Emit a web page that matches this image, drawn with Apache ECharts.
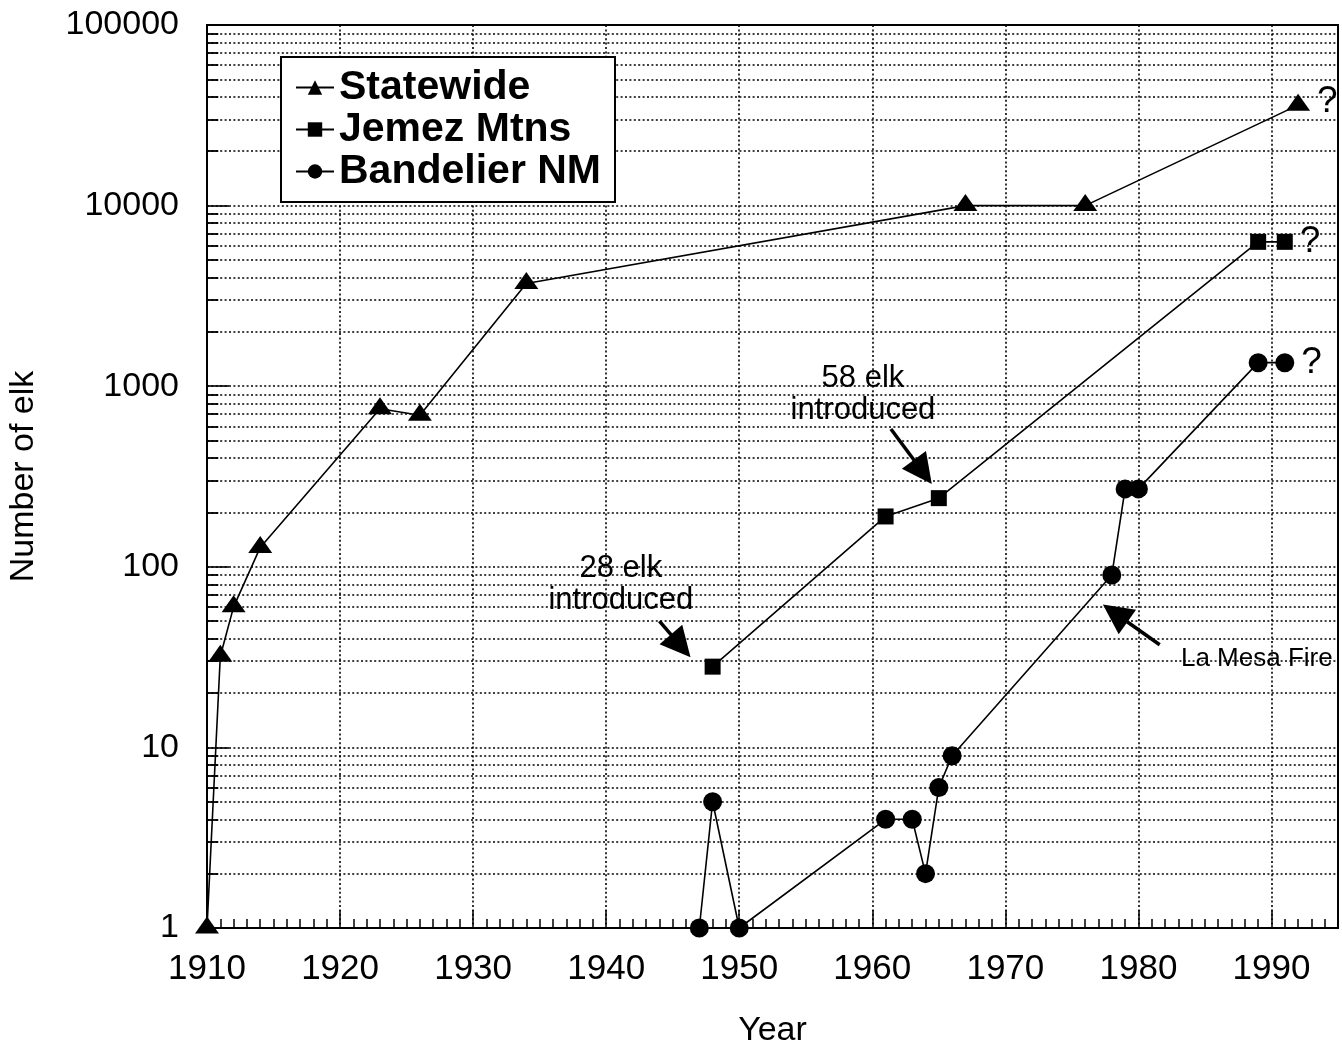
<!DOCTYPE html>
<html><head><meta charset="utf-8">
<script src="https://cdn.jsdelivr.net/npm/echarts@6/dist/echarts.min.js"></script>
<style>html,body{margin:0;padding:0;background:#fff}#c{width:1342px;height:1045px}</style>
</head><body><div id="c"></div>
<script>
// ---- data ----
const statewideYears = [1910, 1911, 1912, 1914, 1923, 1926, 1934, 1967, 1976, 1992];
const statewideCounts = [1, 32, 60, 128, 750, 690, 3700, 10000, 10000, 36000];
const jemezYears = [1948, 1961, 1965, 1989, 1991];
const jemezCounts = [28, 190, 240, 6300, 6300];
const bandelierYears = [1947, 1948, 1950, 1961, 1963, 1964, 1965, 1966, 1978, 1979, 1980, 1989, 1991];
const bandelierCounts = [1, 5, 1, 4, 4, 2, 6, 9, 90, 270, 270, 1350, 1350];
const yearTickLabels = ['1910','1920','1930','1940','1950','1960','1970','1980','1990'];
const countTickLabels = ['1','10','100','1000','10000','100000'];
const seriesNames = ['Statewide', 'Jemez Mtns', 'Bandelier NM'];
const annotationTexts = ['28 elk\nintroduced', '58 elk\nintroduced', 'La Mesa Fire'];

// ---- layout / styling ----
const FONT = '"Liberation Sans", Arial, Helvetica, sans-serif';
const dottedStyle = { color: '#000', width: 1.6, type: [2, 2.4] };

const toPairs = (xs, ys) => xs.map((x, i) => [x, ys[i]]);
function withQuestion(pairs) {
  return pairs.map((p, i) => i === pairs.length - 1
    ? { value: p, label: { show: true, formatter: '?', position: 'right', distance: 7,
        fontSize: 37, color: '#000', fontFamily: FONT } }
    : p);
}

// horizontal log grid lines (2..9 x 10^k and majors)
const gridVals = [], minorVals = [];
for (let e = 0; e <= 4; e++) {
  for (let m = 1; m <= 9; m++) {
    const v = m * Math.pow(10, e);
    if (v === 1) continue;
    gridVals.push(v);
    if (m !== 1) minorVals.push(v);
  }
}
const gridLineData = gridVals.map(v => ({ yAxis: v }));
const minorTickData = minorVals.map(v => [{ coord: [1910, v] }, { coord: [1910.85, v] }]);

const annotations = [
  { text: annotationTexts[0], at: [1941.1, 80], tail: [1944.0, 50], tip: [1945.6, 36.5] },
  { text: annotationTexts[1], at: [1959.3, 900], tail: [1961.4, 580], tip: [1963.8, 335] },
  { text: annotationTexts[2], at: [1988.9, 31], tail: [1981.6, 37], tip: [1978.25, 55.3], small: true }
];

const lineStyle = { color: '#000', width: 1.6 };

const option = {
  animation: false,
  backgroundColor: '#fff',
  grid: { left: 207, right: 4, top: 25, bottom: 117, show: true, borderColor: '#000', borderWidth: 2, outerBoundsMode: 'none' },
  legend: {
    left: 281, top: 57, orient: 'vertical',
    backgroundColor: '#fff', borderColor: '#000', borderWidth: 2,
    padding: [10, 14, 10, 14], itemGap: 1, itemWidth: 38, itemHeight: 18,
    textStyle: { fontSize: 41, fontWeight: 'bold', color: '#000', fontFamily: FONT, lineHeight: 38 },
    data: seriesNames, z: 10
  },
  xAxis: [
    {
      type: 'value', min: 1910, max: 1995, interval: 10,
      axisLine: { show: true, lineStyle: { color: '#000', width: 2 } },
      axisTick: { show: true, inside: true, length: 18, lineStyle: { color: '#000', width: 1.5 } },
      axisLabel: { fontSize: 35, color: '#000', fontFamily: FONT, margin: 24,
        formatter: v => yearTickLabels.indexOf(String(Math.round(v))) >= 0 ? String(Math.round(v)) : '' },
      splitLine: { show: true, lineStyle: dottedStyle },
      name: 'Year', nameLocation: 'middle', nameGap: 86,
      nameTextStyle: { fontSize: 34, color: '#000', fontFamily: FONT }
    },
    {
      type: 'value', min: 1910, max: 1995, interval: 1, position: 'bottom',
      axisLine: { show: false },
      axisTick: { show: true, inside: true, length: 9, lineStyle: { color: '#000', width: 1.5 } },
      axisLabel: { show: false }, splitLine: { show: false }
    }
  ],
  yAxis: {
    type: 'log', logBase: 10, min: 1, max: 100000,
    axisLine: { show: true, lineStyle: { color: '#000', width: 2 } },
    axisTick: { show: true, inside: true, length: 22, lineStyle: { color: '#000', width: 1.6 } },
    axisLabel: { fontSize: 34, color: '#000', fontFamily: FONT, margin: 28,
      formatter: v => countTickLabels[Math.round(Math.log10(v))] },
    splitLine: { show: false },
    name: 'Number of elk', nameLocation: 'middle', nameGap: 166, nameRotate: 90,
    nameTextStyle: { fontSize: 34, color: '#000', fontFamily: FONT }
  },
  series: [
    {
      name: seriesNames[0], type: 'line', data: withQuestion(toPairs(statewideYears, statewideCounts)),
      symbol: 'triangle', symbolSize: [24, 17], symbolOffset: [0, -3],
      itemStyle: { color: '#000' }, lineStyle, z: 5,
      markLine: {
        silent: true, symbol: ['none', 'none'], label: { show: false },
        lineStyle: dottedStyle, data: gridLineData, z: 1, animation: false
      }
    },
    {
      name: seriesNames[1], type: 'line', data: withQuestion(toPairs(jemezYears, jemezCounts)),
      symbol: 'rect', symbolSize: 16, itemStyle: { color: '#000' }, lineStyle, z: 5,
      markLine: {
        silent: true, symbol: ['none', 'triangle'], symbolSize: 30, label: { show: false },
        lineStyle: { color: '#000', width: 3.5, type: 'solid' },
        data: annotations.map(a => [{ coord: a.tail }, { coord: a.tip }]), animation: false
      }
    },
    {
      name: seriesNames[2], type: 'line', data: withQuestion(toPairs(bandelierYears, bandelierCounts)),
      symbol: 'circle', symbolSize: 19, itemStyle: { color: '#000' }, lineStyle, z: 5,
      markLine: {
        silent: true, symbol: ['none', 'none'], label: { show: false },
        lineStyle: { color: '#000', width: 1.8, type: 'solid' },
        data: minorTickData, z: 2, animation: false
      },
      markPoint: {
        silent: true, symbol: 'circle', symbolSize: 1, itemStyle: { color: 'rgba(0,0,0,0)' },
        data: annotations.map(a => ({
          coord: a.at, value: 0,
          label: { show: true, position: 'inside', formatter: a.text, color: '#000', fontFamily: FONT,
            fontSize: a.small ? 26 : 31, lineHeight: a.small ? 26 : 32, align: 'center', verticalAlign: 'middle' }
        })), animation: false
      }
    }
  ]
};

const chart = echarts.init(document.getElementById('c'), null, { renderer: 'canvas' });
chart.setOption(option);
</script>
</body></html>
